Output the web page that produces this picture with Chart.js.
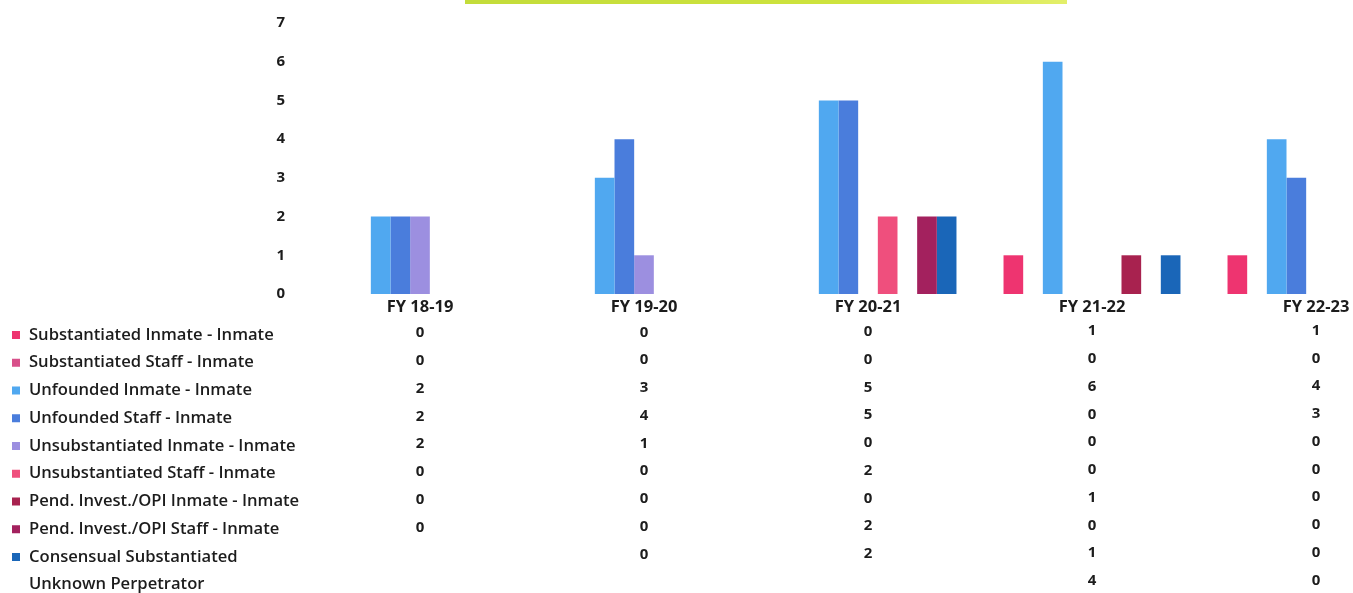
<!DOCTYPE html>
<html>
<head>
<meta charset="utf-8">
<script src="https://cdn.jsdelivr.net/npm/chart.js@4/dist/chart.umd.min.js"></script>
<style>
  html, body { margin: 0; padding: 0; background: #fff; overflow: hidden; }
  #wrap { position: absolute; left: 0; top: -9px; width: 1440px; height: 602px; }
  #topline { position: absolute; left: 465px; top: 0; width: 602px; height: 4px;
    background: linear-gradient(to right, #c3dc3a, #cfe43e 70%, #e3ef6a); }
</style>
</head>
<body>
<div id="wrap"><canvas id="chart"></canvas></div>
<div id="topline"></div>
<script>
// fiscal years
var years = ["FY 18-19", "FY 19-20", "FY 20-21", "FY 21-22", "FY 22-23"];

// series values (null = blank cell in the table)
var substInmate   = [0, 0, 0, 1, 1];
var substStaff    = [0, 0, 0, 0, 0];
var unfInmate     = [2, 3, 5, 6, 4];
var unfStaff      = [2, 4, 5, 0, 3];
var unsubInmate   = [2, 1, 0, 0, 0];
var unsubStaff    = [0, 0, 2, 0, 0];
var pendInmate    = [0, 0, 0, 1, 0];
var pendStaff     = [0, 0, 2, 0, 0];
var consensual    = [null, 0, 2, 1, 0];
var unknownPerp   = [null, null, null, 4, 0];  // table-only row

var seriesNames = [
  "Substantiated Inmate - Inmate",
  "Substantiated Staff - Inmate",
  "Unfounded Inmate - Inmate",
  "Unfounded Staff - Inmate",
  "Unsubstantiated Inmate - Inmate",
  "Unsubstantiated Staff - Inmate",
  "Pend. Invest./OPI Inmate - Inmate",
  "Pend. Invest./OPI Staff - Inmate",
  "Consensual Substantiated"
];
var extraRowName = "Unknown Perpetrator";

var yTicks = [0, 1, 2, 3, 4, 5, 6, 7];

var colors = ["#ee3470", "#d8508a", "#50a8f0", "#4a7ddc", "#9c8fe0",
              "#ef4f7d", "#a8224f", "#a3215e", "#1a66b8"];

var seriesData = [substInmate, substStaff, unfInmate, unfStaff, unsubInmate,
                  unsubStaff, pendInmate, pendStaff, consensual];

var FONT = "'Open Sans', sans-serif";
var TEXT = "#1c1c1c";

var datasets = seriesNames.map(function(n, i){
  return {
    label: n,
    data: seriesData[i],
    backgroundColor: colors[i],
    borderWidth: 0,
    barPercentage: 1,
    categoryPercentage: 0.79
  };
});

// canvas sits 9px above the page top
var OFF = 9;

// draws the legend + data table under the plot, columns from the x scale
var tablePlugin = {
  id: 'dataTable',
  afterDraw: function(chart){
    var ctx = chart.ctx;
    var x = chart.scales.x;
    var rowY0 = 335 + OFF, rowH = 27.75;
    ctx.save();
    ctx.textBaseline = 'middle';
    var rows = seriesData.concat([unknownPerp]);
    for (var r = 0; r < rows.length; r++) {
      var y = rowY0 + r * rowH;
      ctx.font = '600 16.6px ' + FONT;
      ctx.fillStyle = TEXT;
      ctx.textAlign = 'left';
      if (r < seriesNames.length) {
        ctx.fillStyle = colors[r];
        ctx.fillRect(12, y - 4, 8, 8);
        ctx.fillStyle = TEXT;
        ctx.fillText(seriesNames[r], 29, y);
      } else {
        ctx.fillText(extraRowName, 29, y);
      }
      ctx.textAlign = 'center';
      ctx.font = 'bold 15px ' + FONT;
      for (var c = 0; c < years.length; c++) {
        var v = rows[r][c];
        if (v === null || v === undefined) continue;
        ctx.fillText(String(v), x.getPixelForValue(c), y - 2 - c * 0.6);
      }
    }
    ctx.restore();
  }
};

new Chart(document.getElementById('chart'), {
  type: 'bar',
  data: { labels: years, datasets: datasets },
  plugins: [tablePlugin],
  options: {
    responsive: true,
    maintainAspectRatio: false,
    animation: false,
    layout: { padding: { top: 4, right: 12, left: 0, bottom: 0 } },
    plugins: { legend: { display: false }, tooltip: { enabled: false } },
    scales: {
      x: {
        grid: { display: false, drawTicks: false },
        border: { display: false },
        ticks: { color: TEXT, font: { family: FONT, size: 16.5, weight: 'bold' }, padding: 3, maxRotation: 0 },
        afterFit: function(s){ s.height = 299; }
      },
      y: {
        min: 0, max: 7,
        grid: { display: false, drawTicks: false },
        border: { display: false },
        afterBuildTicks: function(s){ s.ticks = yTicks.map(function(v){ return { value: v }; }); },
        ticks: { color: TEXT, font: { family: FONT, size: 15, weight: 'bold' }, padding: 23 },
        afterFit: function(s){ s.width = 308; }
      }
    }
  }
});
</script>
</body>
</html>
